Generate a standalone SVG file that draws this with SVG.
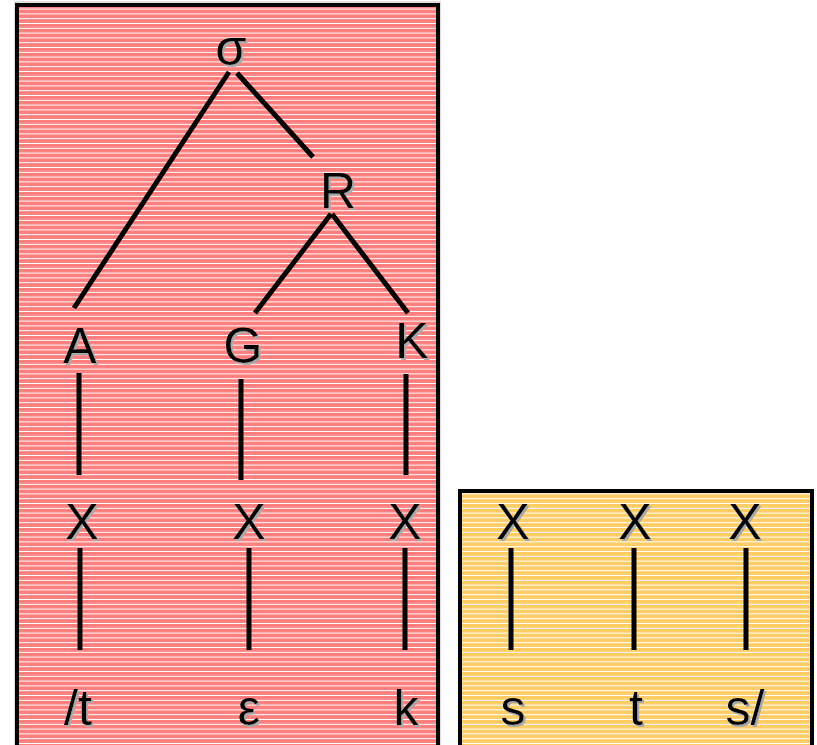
<svg xmlns="http://www.w3.org/2000/svg" width="817" height="745" viewBox="0 0 817 745">
<defs>
<pattern id="redS" patternUnits="userSpaceOnUse" width="10" height="4.8">
<rect width="10" height="4.8" fill="#FF7F7F"/>
<rect y="3.8" width="10" height="1" fill="#FFFFFF"/>
</pattern>
<pattern id="yelS" patternUnits="userSpaceOnUse" width="10" height="4.8">
<rect width="10" height="4.8" fill="#FFCC66"/>
<rect y="3.8" width="10" height="1" fill="#FFFFFF"/>
</pattern>
<filter id="sh" x="-20%" y="-20%" width="140%" height="140%">
<feDropShadow dx="2" dy="2" stdDeviation="0" flood-color="#A8A8A8" flood-opacity="1"/>
</filter>
</defs>
<style>
.box{stroke:#000;stroke-width:4}
.t{font-family:"Liberation Sans",Arial,sans-serif;font-size:50px;fill:#000;text-anchor:middle;filter:url(#sh)}
.ln{stroke:#000;stroke-width:5;stroke-linecap:butt;fill:none}
</style>
<rect x="15" y="2" width="425" height="760" fill="none" stroke="#C0C0C0" stroke-width="1"/>
<rect class="box" x="17" y="5" width="421" height="760" fill="url(#redS)"/>
<rect class="box" x="460" y="491" width="352" height="280" fill="url(#yelS)"/>
<g id="connectors">
<line class="ln" x1="229" y1="72" x2="74" y2="308"/>
<line class="ln" x1="237" y1="73" x2="313" y2="157"/>
<line class="ln" x1="331" y1="214" x2="255" y2="313"/>
<line class="ln" x1="332" y1="214" x2="408" y2="313"/>
<line class="ln" x1="79" y1="373" x2="79" y2="475"/>
<line class="ln" x1="241" y1="379" x2="241" y2="480"/>
<line class="ln" x1="406" y1="374" x2="406" y2="475"/>
<line class="ln" x1="80" y1="548" x2="80" y2="650"/>
<line class="ln" x1="249" y1="548" x2="249" y2="650"/>
<line class="ln" x1="405" y1="548" x2="405" y2="650"/>
<line class="ln" x1="511" y1="548" x2="511" y2="650"/>
<line class="ln" x1="634" y1="548" x2="634" y2="650"/>
<line class="ln" x1="746" y1="548" x2="746" y2="650"/>
</g>
<g id="n-sigma"><text class="t" x="231" y="65">σ</text></g>
<g id="n-R"><text class="t" x="338" y="208">R</text></g>
<g id="n-A"><text class="t" x="80" y="363">A</text></g>
<g id="n-G"><text class="t" x="243" y="363">G</text></g>
<g id="n-K"><text class="t" x="412" y="358">K</text></g>
<g id="n-X1"><text class="t" x="82" y="539">X</text></g>
<g id="n-X2"><text class="t" x="249" y="539">X</text></g>
<g id="n-X3"><text class="t" x="405" y="539">X</text></g>
<g id="n-X4"><text class="t" x="513" y="539">X</text></g>
<g id="n-X5"><text class="t" x="635" y="539">X</text></g>
<g id="n-X6"><text class="t" x="745" y="539">X</text></g>
<g id="n-t1"><text class="t" x="78" y="725">/t</text></g>
<g id="n-e"><text class="t" x="249" y="725">ε</text></g>
<g id="n-k"><text class="t" x="406" y="725">k</text></g>
<g id="n-s1"><text class="t" x="513" y="725">s</text></g>
<g id="n-t2"><text class="t" x="636" y="725">t</text></g>
<g id="n-s2"><text class="t" x="745" y="725">s/</text></g>
</svg>
